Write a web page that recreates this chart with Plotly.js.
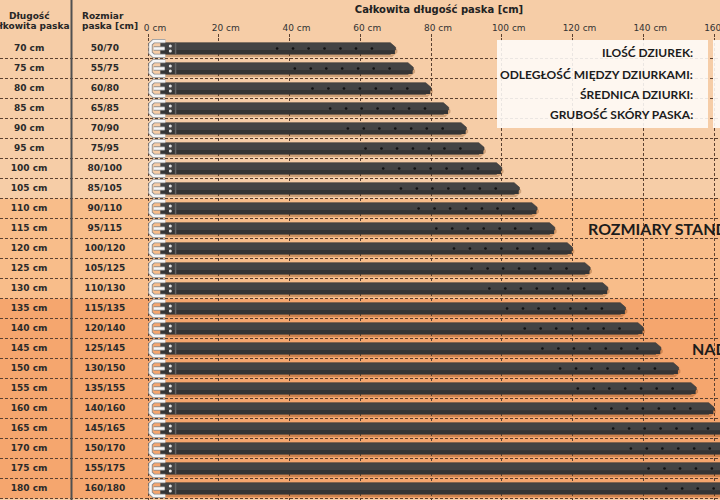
<!DOCTYPE html>
<html>
<head>
<meta charset="utf-8">
<script src="https://cdn.plot.ly/plotly-3.0.1.min.js"></script>
<style>
  html, body { margin: 0; padding: 0; background: #f6cda7; }
  #chart { width: 720px; height: 500px; }
</style>
</head>
<body>
<div id="chart"></div>
<script>
// dane tabeli rozmiarow
var totalLengths = [70, 75, 80, 85, 90, 95, 100, 105, 110, 115, 120, 125, 130, 135, 140, 145, 150, 155, 160, 165, 170, 175, 180];
var sizeLabels = ['50/70', '55/75', '60/80', '65/85', '70/90', '75/95', '80/100', '85/105', '90/110', '95/115', '100/120', '105/125', '110/130',
                  '115/135', '120/140', '125/145', '130/150', '135/155', '140/160', '145/165', '150/170', '155/175', '160/180'];
// odleglosc dziurek od konca paska [cm]
var holeOffsets = [33.5, 29.0, 24.6, 20.1, 15.6, 11.2, 6.7];
var tickValues = [0, 20, 40, 60, 80, 100, 120, 140, 160];
var infoLabels = ['ILOŚĆ DZIUREK:', 'ODLEGŁOŚĆ MIĘDZY DZIURKAMI:', 'ŚREDNICA DZIURKI:', 'GRUBOŚĆ SKÓRY PASKA:'];
var bandRanges = [[70, 105], [110, 130], [135, 180]];
var groupLabels = ['ROZMIARY STANDARDOWE', 'NADWYMIARY'];

var bandColors = ['#f6cda7', '#f8bd8a', '#f5a66e'];
var LINE = '#5a4030';
var PLOT_TOP = 38, PLOT_H = 462;
function px2x(px) { return px / 720; }
function px2y(py) { return 1 + (PLOT_TOP - py) / PLOT_H; }

// pasek: cien, korpus, dolny cien korpusu
var bodyX = [], bodyY = [], shadowX = [], shadowY = [], lowX = [], lowY = [];
var holeX = [], holeY = [], rivetX = [], rivetY = [], keepX = [], keepY = [];
var buckleX = [], buckleY = [];
totalLengths.forEach(function(L) {
    var h = 1.45;
    var px = [3.6, L - 1.5, L, L, L - 1.5, 3.6, 3.6];
    var py = [L - h, L - h, L - 0.3, L + 0.3, L + h, L + h, L - h];
    px.forEach(function(v, i) {
        bodyX.push(v); bodyY.push(py[i]);
        shadowX.push(v + 0.5); shadowY.push(py[i] + 0.7);
    });
    bodyX.push(null); bodyY.push(null); shadowX.push(null); shadowY.push(null);
    [3.6, L - 1.2, L - 0.2, L - 0.2, 3.6, 3.6].forEach(function(v) { lowX.push(v); });
    [L + 0.35, L + 0.35, L + 0.45, L + h - 0.05, L + h - 0.05, L + 0.35].forEach(function(v) { lowY.push(v); });
    lowX.push(null); lowY.push(null);
    holeOffsets.forEach(function(off) { holeX.push(L - off); holeY.push(L); });
    rivetX.push(6.3, 6.3); rivetY.push(L - 0.6, L + 0.6);
    keepX.push(7.8, 7.8, null); keepY.push(L - h, L + h, null);
    buckleX.push(4.9, 1.6, 0.7, 0.7, 1.6, 4.9, null, 1.6, 4.7, null);
    buckleY.push(L - 1.85, L - 1.85, L - 1.1, L + 1.1, L + 1.85, L + 1.85, null, L, L, null);
});

var traces = [
    { x: shadowX, y: shadowY, type: 'scatter', mode: 'lines', fill: 'toself', fillcolor: 'rgba(110,50,0,0.28)', line: { width: 0 }, hoverinfo: 'skip' },
    { x: bodyX, y: bodyY, type: 'scatter', mode: 'lines', fill: 'toself', fillcolor: '#444444', line: { color: '#383838', width: 0.6 }, hoverinfo: 'skip' },
    { x: lowX, y: lowY, type: 'scatter', mode: 'lines', fill: 'toself', fillcolor: '#343434', line: { width: 0 }, hoverinfo: 'skip' },
    { x: keepX, y: keepY, type: 'scatter', mode: 'lines', line: { color: '#646464', width: 1.5 }, hoverinfo: 'skip' },
    { x: holeX, y: holeY, type: 'scatter', mode: 'markers', marker: { size: 2.6, color: '#111111' }, hoverinfo: 'skip' },
    { x: rivetX, y: rivetY, type: 'scatter', mode: 'markers', marker: { size: 3, color: '#e4e4e4' }, hoverinfo: 'skip' },
    { x: buckleX, y: buckleY, type: 'scatter', mode: 'lines', line: { color: '#8c8c8c', width: 4.4 }, hoverinfo: 'skip' },
    { x: buckleX, y: buckleY, type: 'scatter', mode: 'lines', line: { color: '#f6f6f6', width: 2.6 }, hoverinfo: 'skip' },
    { x: totalLengths.map(function() { return -33.6; }), y: totalLengths, type: 'scatter', mode: 'text',
      text: totalLengths.map(function(v) { return '<b>' + v + ' cm</b>'; }),
      textfont: { family: 'DejaVu Sans', size: 9, color: '#2a2a2a' }, hoverinfo: 'skip' },
    { x: totalLengths.map(function() { return -12.2; }), y: totalLengths, type: 'scatter', mode: 'text',
      text: sizeLabels.map(function(s) { return '<b>' + s + '</b>'; }),
      textfont: { family: 'DejaVu Sans', size: 9, color: '#2a2a2a' }, hoverinfo: 'skip' }
];

var shapes = bandRanges.map(function(r, i) {
    return { type: 'rect', xref: 'paper', yref: 'y', x0: 0, x1: 1, y0: r[0] - 2.5, y1: r[1] + 2.5,
             fillcolor: bandColors[i], line: { width: 0 }, layer: 'below' };
});
shapes.push({ type: 'line', xref: 'paper', yref: 'paper', x0: px2x(71.5), x1: px2x(71.5), y0: 0, y1: px2y(0),
              line: { color: '#505050', width: 2 } });
shapes.push({ type: 'rect', xref: 'paper', yref: 'paper', x0: px2x(497), x1: px2x(708), y0: px2y(128), y1: px2y(40),
              fillcolor: 'rgba(255,253,250,0.88)', line: { width: 0 } });
shapes.push({ type: 'rect', xref: 'paper', yref: 'paper', x0: px2x(713), x1: 1.01, y0: px2y(128), y1: px2y(40),
              fillcolor: 'rgba(255,253,250,0.88)', line: { width: 0 } });

var hdrFont = { family: 'DejaVu Sans', size: 9, color: '#262626' };
var annotations = [
    { text: '<b>Długość</b>', x: px2x(29), y: px2y(15.5) },
    { text: '<b>całkowita paska</b>', x: px2x(29), y: px2y(25.7) },
    { text: '<b>Rozmiar</b>', x: px2x(80), y: px2y(15.5), xanchor: 'left' },
    { text: '<b>paska [cm]</b>', x: px2x(80), y: px2y(25.7), xanchor: 'left' }
].map(function(a) {
    return Object.assign({ xref: 'paper', yref: 'paper', showarrow: false, xanchor: 'center', yanchor: 'middle', font: hdrFont }, a);
});
infoLabels.forEach(function(t, i) {
    annotations.push({ text: '<b>' + t + '</b>', xref: 'paper', yref: 'paper', x: px2x(695), y: px2y([53, 74, 94.5, 115][i]),
                       xanchor: 'right', yanchor: 'middle', showarrow: false,
                       font: { family: 'Lato', size: 12, color: '#1c1c1c' } });
});
annotations.push({ text: '<b>' + groupLabels[0] + '</b>', xref: 'paper', yref: 'y', x: px2x(586), y: 115,
                   xanchor: 'left', yanchor: 'middle', showarrow: false, font: { family: 'Lato', size: 16, color: '#1c1c1c' } });
annotations.push({ text: '<b>' + groupLabels[1] + '</b>', xref: 'paper', yref: 'y', x: px2x(690), y: 145,
                   xanchor: 'left', yanchor: 'middle', showarrow: false, font: { family: 'Lato', size: 16, color: '#1c1c1c' } });

var layout = {
    width: 720, height: 500,
    paper_bgcolor: '#f6cda7', plot_bgcolor: 'rgba(0,0,0,0)',
    margin: { t: PLOT_TOP, r: 0, b: 0, l: 0 },
    showlegend: false,
    title: { text: '<b>Całkowita długość paska [cm]</b>', x: px2x(439), xanchor: 'center', y: 1 - 9.5 / 500, yanchor: 'middle',
             font: { family: 'DejaVu Sans', size: 10, color: '#222222' } },
    xaxis: { range: [-148 / 3.5375, 572 / 3.5375], side: 'top', tickvals: tickValues,
             ticktext: tickValues.map(function(v) { return v + ' cm'; }),
             ticks: 'outside', ticklen: 3, tickcolor: LINE, tickwidth: 1, ticklabelshift: 7, ticklabelstandoff: -1,
             ticklabeloverflow: 'allow',
             tickfont: { family: 'DejaVu Sans', size: 9, color: '#333333' },
             showgrid: true, gridcolor: LINE, griddash: '3px,2px', gridwidth: 1, zeroline: false, showline: false, fixedrange: true },
    yaxis: { range: [182.875, 67.375], tick0: 67.5, dtick: 5, showticklabels: false, ticks: '',
             showgrid: true, gridcolor: LINE, griddash: '3px,2px', gridwidth: 1, zeroline: false, showline: false, fixedrange: true },
    shapes: shapes,
    annotations: annotations
};

Plotly.newPlot('chart', traces, layout, { displayModeBar: false, staticPlot: true });
</script>
</body>
</html>
